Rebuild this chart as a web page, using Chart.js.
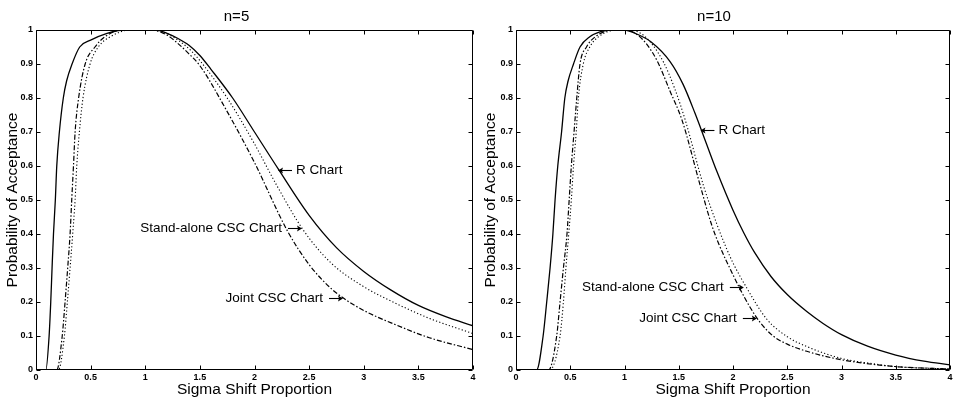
<!DOCTYPE html>
<html><head><meta charset="utf-8">
<script src="https://cdn.jsdelivr.net/npm/chart.js@4/dist/chart.umd.min.js"></script>
<style>
html,body{margin:0;padding:0;background:#fff;}
#wrap{position:relative;width:957px;height:401px;overflow:hidden;background:#fff;}
canvas{position:absolute;top:0;}
</style></head><body>
<div id="wrap">
<canvas id="c1" width="478" height="401" style="left:0px"></canvas>
<canvas id="c2" width="479" height="401" style="left:478px"></canvas>
</div>
<script>
// ---------- DATA ----------
const panelTitles = ['n=5', 'n=10'];
const seriesNames = ['R Chart', 'Stand-alone CSC Chart', 'Joint CSC Chart'];
const xTickLabels = ['0','0.5','1','1.5','2','2.5','3','3.5','4'];
const yTickLabels = ['0','0.1','0.2','0.3','0.4','0.5','0.6','0.7','0.8','0.9','1'];
const xAxisTitle = 'Sigma Shift Proportion';
const yAxisTitle = 'Probability of Acceptance';

// n = 5
const n5_R_x  = [0, 0.09, 0.12, 0.135, 0.147, 0.16, 0.177, 0.19, 0.214, 0.25, 0.28, 0.33, 0.4, 0.5, 0.65, 0.8, 1.1, 1.2, 1.3, 1.4, 1.5, 1.6, 1.8, 2.0, 2.22, 2.5, 2.75, 3.0, 3.25, 3.5, 3.75, 4.0];
const n5_R_y  = [0, 0, 0.1, 0.2, 0.3, 0.4, 0.5, 0.6, 0.7, 0.8, 0.85, 0.9, 0.95, 0.97, 0.99, 1.0, 1.0, 0.99, 0.975, 0.955, 0.925, 0.885, 0.80, 0.70, 0.59, 0.455, 0.36, 0.29, 0.235, 0.19, 0.157, 0.13];
const n5_SA_x = [0, 0.205, 0.26, 0.287, 0.312, 0.336, 0.358, 0.373, 0.397, 0.43, 0.495, 0.57, 0.68, 0.86, 1.1, 1.2, 1.3, 1.4, 1.5, 1.75, 2.0, 2.2, 2.45, 2.7, 3.0, 3.3, 3.6, 4.0];
const n5_SA_y = [0, 0, 0.1, 0.2, 0.3, 0.4, 0.5, 0.6, 0.7, 0.8, 0.9, 0.95, 0.98, 1.0, 1.0, 0.99, 0.97, 0.945, 0.91, 0.80, 0.665, 0.545, 0.41, 0.315, 0.245, 0.195, 0.152, 0.107];
const n5_J_x  = [0, 0.19, 0.24, 0.266, 0.29, 0.312, 0.327, 0.343, 0.358, 0.39, 0.45, 0.54, 0.63, 0.8, 1.05, 1.2, 1.3, 1.4, 1.5, 1.75, 2.0, 2.3, 2.5, 2.7, 2.82, 3.0, 3.3, 3.6, 4.0];
const n5_J_y  = [0, 0, 0.1, 0.2, 0.3, 0.4, 0.5, 0.6, 0.7, 0.8, 0.9, 0.95, 0.98, 1.0, 1.0, 0.985, 0.96, 0.93, 0.895, 0.76, 0.61, 0.41, 0.31, 0.24, 0.21, 0.175, 0.132, 0.095, 0.06];

// n = 10
const n10_R_x  = [0, 0.19, 0.25, 0.283, 0.314, 0.34, 0.36, 0.385, 0.42, 0.45, 0.48, 0.53, 0.59, 0.68, 0.78, 0.87, 1.0, 1.1, 1.24, 1.42, 1.54, 1.65, 1.75, 1.85, 2.0, 2.1, 2.2, 2.35, 2.5, 2.68, 2.83, 3.0, 3.24, 3.5, 3.76, 4.0];
const n10_R_y  = [0, 0, 0.1, 0.2, 0.3, 0.4, 0.5, 0.6, 0.7, 0.8, 0.85, 0.9, 0.95, 0.98, 0.995, 1.0, 1.0, 0.99, 0.966, 0.907, 0.84, 0.755, 0.67, 0.585, 0.47, 0.403, 0.345, 0.275, 0.222, 0.172, 0.137, 0.104, 0.07, 0.044, 0.026, 0.015];
const n10_SA_x = [0, 0.31, 0.406, 0.437, 0.46, 0.486, 0.51, 0.53, 0.555, 0.575, 0.62, 0.68, 0.76, 0.93, 1.05, 1.15, 1.25, 1.36, 1.46, 1.56, 1.73, 1.85, 1.93, 2.0, 2.12, 2.31, 2.5, 2.68, 3.0, 3.3, 3.5, 4.0];
const n10_SA_y = [0, 0, 0.1, 0.2, 0.3, 0.4, 0.5, 0.6, 0.7, 0.8, 0.9, 0.95, 0.98, 1.0, 1.0, 0.99, 0.96, 0.905, 0.83, 0.735, 0.54, 0.43, 0.365, 0.315, 0.245, 0.15, 0.098, 0.069, 0.034, 0.018, 0.01, 0.003];
const n10_J_x  = [0, 0.30, 0.375, 0.406, 0.437, 0.47, 0.49, 0.51, 0.535, 0.56, 0.59, 0.65, 0.73, 0.9, 1.0, 1.1, 1.2, 1.3, 1.42, 1.53, 1.7, 1.8, 1.87, 2.0, 2.07, 2.16, 2.25, 2.37, 2.5, 2.68, 3.0, 3.5, 4.0];
const n10_J_y  = [0, 0, 0.1, 0.2, 0.3, 0.4, 0.5, 0.6, 0.7, 0.8, 0.9, 0.95, 0.98, 1.0, 1.0, 0.99, 0.96, 0.91, 0.82, 0.735, 0.54, 0.43, 0.37, 0.28, 0.235, 0.183, 0.14, 0.1, 0.076, 0.055, 0.03, 0.01, 0.003];

// ---------- STYLE / LAYOUT ----------
const FONT = '"Liberation Sans", Arial, Helvetica, sans-serif';
const lineStyles = [
  { dash: [], width: 1.3 },
  { dash: [1.2, 2.2], width: 1.1 },
  { dash: [5, 2, 1.5, 2], width: 1.2 }
];
// annotation anchors (arrow tips) in data units
const notesLeft = [
  { x: 2.215, y: 0.588, side: 'left',  text: seriesNames[0] },
  { x: 2.435, y: 0.418, side: 'right', text: seriesNames[1] },
  { x: 2.81,  y: 0.212, side: 'right', text: seriesNames[2] }
];
const notesRight = [
  { x: 1.70, y: 0.706, side: 'left',  text: seriesNames[0] },
  { x: 2.10, y: 0.244, side: 'right', text: seriesNames[1] },
  { x: 2.22, y: 0.153, side: 'right', text: seriesNames[2] }
];

function pts(xs, ys) { return xs.map((x, i) => ({ x: x, y: ys[i] })); }

const frameTicks = {
  id: 'frameTicks',
  afterDatasetsDraw(chart) {
    const { ctx, chartArea: a, scales: { x, y } } = chart;
    ctx.save();
    ctx.strokeStyle = '#000';
    ctx.lineWidth = 1;
    const L = Math.round(a.left) + 0.5, R = Math.round(a.right) - 0.5;
    const T = Math.round(a.top) + 0.5, B = Math.round(a.bottom) - 0.5;
    ctx.beginPath();
    ctx.rect(L, T, R - L, B - T);
    const tl = 4;
    x.ticks.forEach(t => {
      const px = Math.round(x.getPixelForValue(t.value)) + 0.5;
      ctx.moveTo(px, B); ctx.lineTo(px, B - tl);
      ctx.moveTo(px, T); ctx.lineTo(px, T + tl);
    });
    y.ticks.forEach(t => {
      const py = Math.round(y.getPixelForValue(t.value)) + 0.5;
      ctx.moveTo(L, py); ctx.lineTo(L + tl, py);
      ctx.moveTo(R, py); ctx.lineTo(R - tl, py);
    });
    ctx.stroke();
    ctx.restore();
  }
};

function drawArrow(ctx, fromX, toX, y) {
  const dir = Math.sign(toX - fromX);
  ctx.beginPath();
  ctx.moveTo(fromX, y);
  ctx.lineTo(toX - dir * 3, y);
  ctx.stroke();
  ctx.beginPath();
  ctx.moveTo(toX, y);
  ctx.lineTo(toX - dir * 5, y - 3);
  ctx.lineTo(toX - dir * 4, y);
  ctx.lineTo(toX - dir * 5, y + 3);
  ctx.closePath();
  ctx.fill();
}

const notesPlugin = {
  id: 'notes',
  afterDraw(chart, args, opts) {
    const { ctx, scales: { x, y } } = chart;
    ctx.save();
    ctx.fillStyle = '#000';
    ctx.strokeStyle = '#000';
    ctx.lineWidth = 1.1;
    ctx.font = '13.5px ' + FONT;
    ctx.textBaseline = 'middle';
    const arrowLen = 14, gap = 4;
    (opts.items || []).forEach(n => {
      const px = x.getPixelForValue(n.x), py = Math.round(y.getPixelForValue(n.y)) + 0.5;
      if (n.side === 'left') {
        drawArrow(ctx, px + arrowLen, px, py);
        ctx.textAlign = 'left';
        ctx.fillText(n.text, px + arrowLen + gap, py);
      } else {
        drawArrow(ctx, px - arrowLen, px, py);
        ctx.textAlign = 'right';
        ctx.fillText(n.text, px - arrowLen - gap - 2, py);
      }
    });
    ctx.restore();
  }
};

function makeChart(id, title, series, notes, yWidth, padRight) {
  const datasets = series.map((s, i) => ({
    label: seriesNames[i],
    data: pts(s[0], s[1]),
    borderColor: '#000',
    borderWidth: lineStyles[i].width,
    borderDash: lineStyles[i].dash,
    pointRadius: 0,
    fill: false,
    cubicInterpolationMode: 'monotone'
  }));
  return new Chart(document.getElementById(id), {
    type: 'line',
    data: { datasets },
    plugins: [frameTicks, notesPlugin],
    options: {
      responsive: false,
      animation: false,
      devicePixelRatio: 1,
      layout: { padding: { left: 0, right: padRight, top: 0, bottom: 0 } },
      plugins: {
        legend: { display: false },
        tooltip: { enabled: false },
        title: {
          display: true, text: title, color: '#000',
          font: { family: FONT, size: 15, weight: 'normal' },
          padding: { top: 8, bottom: 4 }
        },
        notes: { items: notes }
      },
      scales: {
        x: {
          type: 'linear', min: 0, max: 4,
          grid: { display: false, drawTicks: false },
          border: { display: false },
          ticks: {
            stepSize: 0.5, color: '#000', padding: 2, maxRotation: 0, autoSkip: false,
            font: { family: FONT, size: 9, weight: 'bold' },
            callback: (v, i) => xTickLabels[i]
          },
          title: {
            display: true, text: xAxisTitle, color: '#000',
            font: { family: FONT, size: 15.5 }, padding: { top: 0, bottom: 2 }
          },
          afterFit: s => { s.height = 31; }
        },
        y: {
          type: 'linear', min: 0, max: 1,
          grid: { display: false, drawTicks: false },
          border: { display: false },
          ticks: {
            stepSize: 0.1, color: '#000', padding: 3, autoSkip: false,
            font: { family: FONT, size: 9, weight: 'bold' },
            callback: (v, i) => yTickLabels[i]
          },
          title: {
            display: true, text: yAxisTitle, color: '#000',
            font: { family: FONT, size: 15.5 }, padding: { top: 3, bottom: 0 }
          },
          afterFit: s => { s.width = yWidth; }
        }
      }
    }
  });
}

makeChart('c1', panelTitles[0],
  [[n5_R_x, n5_R_y], [n5_SA_x, n5_SA_y], [n5_J_x, n5_J_y]], notesLeft, 36, 5);
makeChart('c2', panelTitles[1],
  [[n10_R_x, n10_R_y], [n10_SA_x, n10_SA_y], [n10_J_x, n10_J_y]], notesRight, 38, 7);
</script>
</body></html>
